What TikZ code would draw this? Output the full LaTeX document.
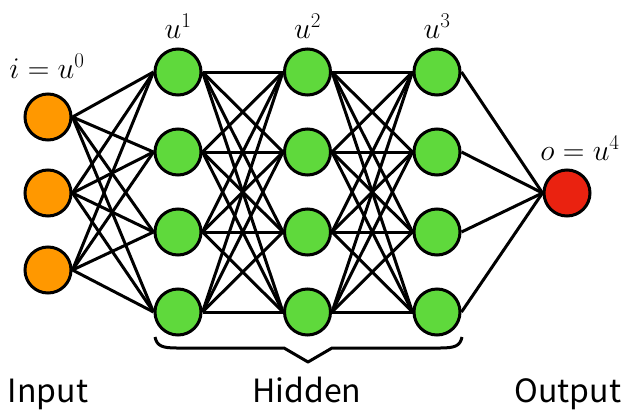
\RequirePackage{fix-cm}
\documentclass[tikz,border=0pt]{standalone}
\usepackage{amsmath}
\usepackage{fontspec}
\newfontfamily\labelfont{Noto Sans CJK JP}
\usepackage{tikz}
\definecolor{inorange}{RGB}{255,152,0}
\definecolor{hidgreen}{RGB}{95,217,60}
\definecolor{outred}{RGB}{234,34,16}
\tikzset{
  neuron/.style={circle,draw=black,line width=3pt,minimum size=46pt,inner sep=0pt},
  inunit/.style={neuron,fill=inorange},
  hidunit/.style={neuron,fill=hidgreen},
  outunit/.style={neuron,fill=outred},
  link/.style={line width=3pt},
  bracket/.style={line width=3pt,line join=round},
  layerlabel/.style={font=\labelfont\fontsize{32}{36}\selectfont,anchor=base},
  mathlabel/.style={font=\fontsize{30}{34}\selectfont,anchor=base}
}

\begin{document}
\begin{tikzpicture}[x=1pt,y=-1pt]
    \useasboundingbox (0,0) rectangle (624,410);
    % units
    \foreach \k/\y in {1/117,2/193,3/270}
      \node[inunit] (in\k) at (48,\y) {};
    \foreach \l/\x in {1/178,2/307.5,3/437}
      \foreach \k/\y in {1/72,2/152,3/232,4/312}
        \node[hidunit] (h\l\k) at (\x,\y) {};
    \node[outunit] (out) at (567,193) {};
    % weights
    \foreach \i in {1,2,3}
      \foreach \j in {1,...,4}
        \draw[link] (in\i.east) -- (h1\j.west);
    \foreach \l/\m in {1/2,2/3}
      \foreach \i in {1,...,4}
        \foreach \j in {1,...,4}
          \draw[link] (h\l\i.east) -- (h\m\j.west);
    \foreach \i in {1,...,4}
      \draw[link] (h3\i.east) -- (out.west);
    % labels
    \node[mathlabel] (lin) at (47,78) {$i=u^0$};
    \node[mathlabel] (lh1) at (178,38) {$u^1$};
    \node[mathlabel] (lh2) at (307.5,38) {$u^2$};
    \node[mathlabel] (lh3) at (437,38) {$u^3$};
    \node[mathlabel] (lout) at (580,160) {$o=u^4$};
    \draw[bracket] (155,337) .. controls (157,346) and (162,348) .. (177,348)
      -- (284,348) -- (308,362) -- (332,348) -- (440,348)
      .. controls (455,348) and (460,346) .. (462,337);
    \node[layerlabel] (tin) at (48,402) {Input};
    \node[layerlabel] (thid) at (307,402) {Hidden};
    \node[layerlabel] (tout) at (568,402) {Output};
  \end{tikzpicture}
\end{document}
